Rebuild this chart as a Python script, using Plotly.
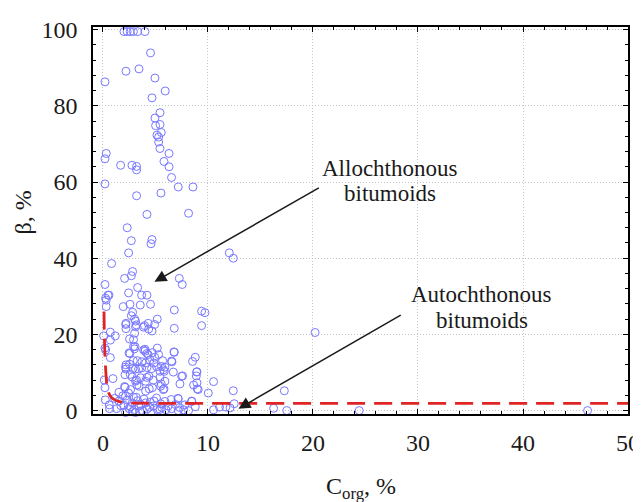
import plotly.graph_objects as go

# Scatter data: C_org (%) and beta (%)
c_org = [
    2.0, 2.3, 2.6, 2.9, 3.3, 4.0,
    4.53, 2.19, 3.43, 4.95, 0.19, 5.93, 4.67,
    5.43, 4.95, 5.01, 5.43, 5.55, 5.14, 5.3,
    5.3, 5.43, 0.31, 0.19, 6.29, 5.81, 1.68, 2.76, 3.2, 3.2, 6.29, 6.53, 0.19, 7.17, 8.57,
    5.52, 3.2, 4.19, 8.15, 2.31, 2.7, 4.67, 4.57, 2.44, 12.03, 12.41, 0.82, 2.82, 2.7, 2.06, 7.27,
    7.55, 0.19, 3.3, 0.57, 0.31, 2.44, 3.68, 4.19, 0.31, 1.93, 2.57, 3.55, 4.53, 2.82, 2.7,
    6.79, 9.39, 9.71, 2.19, 2.19, 3.01, 3.17, 3.87, 4.31, 4.67, 4.92, 5.17, 4.35, 3.01, 6.79,
    9.39, 0.7, 0.06, 0.7, 1.17, 0.19, 0.7, 2.53, 2.91, 2.91, 2.57, 3.87, 4.19, 4.7, 5.17,
    4.92, 6.79, 2.89, 3.71, 4.47, 5.68, 6.57, 8.79, 8.53, 2.19, 2.19, 3.1, 3.39, 2.6, 4.19,
    5.1, 5.77, 7.58, 8.95, 8.89, 0.12, 0.95, 0.19, 3.2, 3.24, 4.19, 4.79, 5.43, 5.55, 4.41,
    5.81, 7.33, 8.95, 10.53, 8.98, 10.03, 12.41, 2.06, 0.22, 0.6, 1.52, 1.9, 2.44, 2.91,
    7.14, 10.53, 11.1, 11.7, 12.5, 16.25, 20.2, 17.27, 8.47, 8.79, 17.5, 24.4, 7.68, 8.15,
    46.15, 8.63,
    3.0, 2.48, 4.0, 4.3, 5.3, 3.27, 4.06, 4.85, 2.53, 2.15, 2.85, 3.68, 4.63, 5.43, 2.1,
    2.79, 3.1, 3.58, 4.06, 4.38, 2.1, 2.63, 3.43, 4.06, 4.7, 5.49, 0.63, 2.15, 1.52, 2.0,
    2.48, 2.79, 3.17, 3.43, 3.74, 4.06, 4.44, 4.86, 5.17, 5.49, 3.1, 2.15,
    6.76, 5.58, 5.9, 6.53, 6.7, 5.84, 8.92, 7.49, 5.9, 5.74, 9.07, 7.17, 8.44, 5.43, 6.53,
    7.17, 12.1,
    0.48, 0.25, 2.16, 3.1, 3.1, 3.96, 3.05, 4.0, 0.25,
    2.3, 2.6, 3.0, 3.3, 3.6, 3.9, 4.2, 4.5, 4.8, 5.1, 5.6, 5.9, 6.2, 6.5, 6.9, 7.3, 7.8,
    6.0, 2.8, 3.5, 4.6, 1.1, 1.7, 1.3,
]
beta = [
    99.5, 99.5, 99.5, 99.5, 99.5, 99.5,
    93.9, 89.1, 89.7, 87.3, 86.3, 83.9, 82.1,
    78.2, 76.8, 74.8, 75.1, 73.0, 72.3, 71.8,
    70.5, 68.8, 67.5, 66.1, 67.5, 65.4, 64.4, 64.4, 64.1, 63.2, 64.0, 61.2, 59.5, 58.7, 58.7,
    57.1, 56.4, 51.5, 51.8, 48.0, 44.6, 44.9, 43.8, 41.4, 41.4, 40.0, 38.6, 36.5, 35.4, 34.7, 34.7,
    33.1, 33.1, 32.3, 30.3, 29.0, 30.9, 30.3, 30.3, 27.3, 27.3, 27.9, 27.7, 27.9, 25.8, 24.9,
    26.4, 26.1, 25.7, 22.9, 21.5, 24.0, 22.5, 21.9, 22.9, 20.9, 22.6, 24.0, 21.4, 20.3, 21.6,
    22.3, 20.6, 19.6, 18.5, 19.6, 16.4, 13.9, 18.8, 18.6, 16.8, 15.0, 15.9, 15.0, 15.2, 16.4,
    14.0, 15.3, 13.1, 12.8, 13.3, 13.1, 12.8, 14.0, 12.9, 12.0, 10.9, 10.9, 10.9, 9.5, 11.3,
    11.5, 10.7, 9.1, 10.2, 9.1, 8.0, 8.4, 6.0, 8.0, 6.7, 8.7, 8.0, 8.7, 7.0, 5.7,
    5.7, 7.0, 7.3, 7.6, 5.7, 4.6, 5.2, 6.3, 2.8, 1.5, 4.8, 3.9, 4.6, 3.5,
    3.2, 0.2, 0.9, 0.9, 1.8, 0.6, 20.5, 5.2, 2.4, 1.0, 0.0, 0.0, 0.2, 0.0,
    0.0, 6.7,
    16.2, 15.1, 15.6, 14.7, 14.7, 13.1, 12.5, 12.5, 12.2, 11.4, 11.0, 11.2, 11.0, 10.3, 9.4,
    8.8, 7.7, 8.6, 7.7, 9.0, 6.1, 5.5, 6.4, 5.1, 6.0, 6.4, 0.5, 3.8, 2.5, 1.4,
    0.5, 2.0, 3.5, 1.2, 0.0, 2.0, 0.9, 2.5, 0.3, 1.8, -0.5, -0.5,
    15.4, 11.6, 11.4, 13.0, 10.1, 10.3, 10.1, 9.0, 7.7, 5.5, 5.5, 3.1, 2.5, 0.3, 0.5,
    0.0, 0.7,
    30.3, 29.5, 22.6, 23.5, 22.0, 22.3, 16.8, 16.1, 15.9,
    2.8, 1.0, 0.3, 2.6, 1.6, 3.0, 0.4, 2.2, 1.2, 3.3, 0.8, 2.4, 1.2, 2.9, 1.6, 0.8, 1.5,
    0.2, -0.3, -0.2, -0.3, 3.2, 1.3, 0.5,
]

# Fitted curve
curve_x = [0.1, 0.13, 0.17, 0.22, 0.3, 0.4, 0.55, 0.75, 1.0, 1.5, 2.2, 3.5, 6, 15, 50]
curve_y = [26, 20, 16, 12.5, 9, 6.2, 4.6, 3.6, 3.0, 2.4, 2.05, 1.95, 1.9, 1.9, 1.9]

x_ticks = [0, 10, 20, 30, 40, 50]
y_ticks = [0, 20, 40, 60, 80, 100]

FONT = "Liberation Serif"
TXT = "#1a1a1a"

fig = go.Figure()
fig.add_trace(go.Scatter(
    x=c_org, y=beta, mode="markers",
    marker=dict(symbol="circle-open", size=8, color="#7878ff", line=dict(width=1)),
    cliponaxis=False, showlegend=False,
))
fig.add_trace(go.Scatter(
    x=curve_x, y=curve_y, mode="lines",
    line=dict(color="#e02424", width=2.8, dash="18px,9px", shape="spline"),
    showlegend=False,
))

axis_common = dict(
    showline=True, linecolor="black", linewidth=1.5, mirror="ticks",
    ticks="inside", ticklen=5, tickwidth=1, tickcolor="black",
    showgrid=True, gridcolor="#c4c4c4", griddash="1px,2px", gridwidth=1,
    zeroline=False,
    tickfont=dict(family=FONT, size=24, color=TXT),
)

fig.update_xaxes(range=[-0.95, 50], tickvals=x_ticks,
                 minor=dict(dtick=2, tick0=0, ticks="inside", ticklen=3, tickcolor="black", showgrid=False),
                 ticklabelstandoff=6, **axis_common)
fig.update_yaxes(range=[-0.9, 100.7], tickvals=y_ticks,
                 minor=dict(dtick=4, tick0=0, ticks="inside", ticklen=3, tickcolor="black", showgrid=False),
                 ticklabelstandoff=9, **axis_common)

ann_font = dict(family=FONT, size=23, color=TXT)
annotations = [
    dict(x=4.9, y=33.8, ax=20.7, ay=58.7, xref="x", yref="y", axref="x", ayref="y",
         showarrow=True, arrowhead=2, arrowsize=1.6, arrowwidth=1.5, arrowcolor="#1a1a1a", text=""),
    dict(x=12.9, y=0.5, ax=28.5, ay=25.3, xref="x", yref="y", axref="x", ayref="y",
         showarrow=True, arrowhead=2, arrowsize=1.6, arrowwidth=1.5, arrowcolor="#1a1a1a", text=""),
    dict(x=27.27, y=63.6, xref="x", yref="y", text="Allochthonous", showarrow=False, font=ann_font),
    dict(x=27.3, y=57.1, xref="x", yref="y", text="bitumoids", showarrow=False, font=ann_font),
    dict(x=36.05, y=30.4, xref="x", yref="y", text="Autochthonous", showarrow=False, font=ann_font),
    dict(x=36.05, y=23.7, xref="x", yref="y", text="bitumoids", showarrow=False, font=ann_font),
    dict(x=-0.1303, y=0.5216, xref="paper", yref="paper", xanchor="center", yanchor="middle",
         text="β, %", textangle=-90,
         showarrow=False, font=dict(family=FONT, size=24, color=TXT)),
    dict(x=0.5, y=-0.19, xref="paper", yref="paper", xanchor="center", yanchor="middle",
         text="C<sub>org</sub>, %", showarrow=False, font=dict(family=FONT, size=24, color=TXT)),
]

# The page adds an 8px offset; size the figure so the plot area lands where the reference has it.
fig.update_layout(
    width=633, height=494,
    margin=dict(l=85, r=13, t=19, b=88, autoexpand=False),
    paper_bgcolor="white", plot_bgcolor="white",
    annotations=annotations,
)

fig.write_html("out.html")
